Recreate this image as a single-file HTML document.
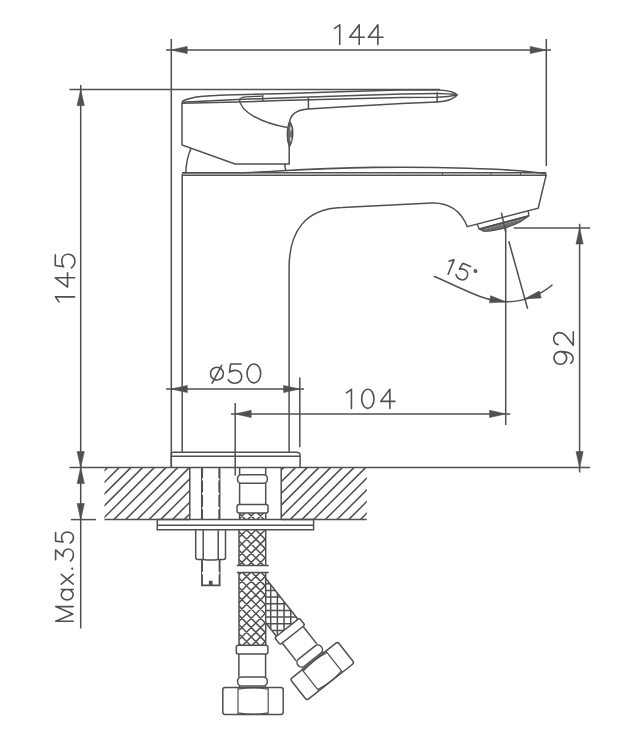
<!DOCTYPE html>
<html><head><meta charset="utf-8"><title>Faucet drawing</title>
<style>html,body{margin:0;padding:0;background:#fff;} svg{display:block;}</style>
</head><body>
<svg width="620" height="737" viewBox="0 0 620 737"><line x1="166" y1="50" x2="551" y2="50" stroke="#505050" stroke-width="1.5" />
<path d="M171.20,50.00 L187.20,46.40 L187.20,53.60 Z" fill="#505050" stroke="#505050" stroke-width="0.6"/>
<path d="M546.20,50.00 L530.20,53.60 L530.20,46.40 Z" fill="#505050" stroke="#505050" stroke-width="0.6"/>
<line x1="171.3" y1="39" x2="171.3" y2="467.5" stroke="#505050" stroke-width="1.5" />
<line x1="546.3" y1="39" x2="546.3" y2="166" stroke="#505050" stroke-width="1.5" />
<g transform="translate(333.3,44.5) rotate(0) scale(0.9900)" fill="none" stroke="#505050" stroke-width="1.616" stroke-linecap="round" stroke-linejoin="round"><path transform="translate(0.00,0)" d="M1.3,-16.2 L6.5,-19.9 V0"/><path transform="translate(16.26,0)" d="M9.9,0 V-20 L0.3,-7.3 H15.1"/><path transform="translate(35.15,0)" d="M9.9,0 V-20 L0.3,-7.3 H15.1"/></g>
<line x1="80.7" y1="85" x2="80.7" y2="628.6" stroke="#505050" stroke-width="1.5" />
<line x1="69.5" y1="89.6" x2="440" y2="89.6" stroke="#505050" stroke-width="1.5" />
<path d="M80.70,89.60 L84.30,105.60 L77.10,105.60 Z" fill="#505050" stroke="#505050" stroke-width="0.6"/>
<path d="M80.70,467.60 L77.10,451.60 L84.30,451.60 Z" fill="#505050" stroke="#505050" stroke-width="0.6"/>
<path d="M80.70,467.60 L84.30,483.60 L77.10,483.60 Z" fill="#505050" stroke="#505050" stroke-width="0.6"/>
<path d="M80.70,519.60 L77.10,503.60 L84.30,503.60 Z" fill="#505050" stroke="#505050" stroke-width="0.6"/>
<line x1="69.5" y1="467.6" x2="590" y2="467.6" stroke="#505050" stroke-width="1.5" />
<line x1="70.8" y1="519.6" x2="96" y2="519.6" stroke="#505050" stroke-width="1.5" />
<g transform="translate(74.6,303.1) rotate(-90) scale(0.9650)" fill="none" stroke="#505050" stroke-width="1.658" stroke-linecap="round" stroke-linejoin="round"><path transform="translate(0.00,0)" d="M1.3,-16.2 L6.5,-19.9 V0"/><path transform="translate(16.32,0)" d="M9.9,0 V-20 L0.3,-7.3 H15.1"/><path transform="translate(36.06,0)" d="M13.9,-20 H2.9 L1.7,-11.4 C3.3,-12.7 5.4,-13.3 7.6,-13.3 C11.8,-13.3 14.6,-10.4 14.6,-6.5 C14.6,-2.6 11.6,0.3 7.5,0.3 C4.6,0.3 2.0,-1.1 0.4,-3.4"/></g>
<g transform="translate(73.2,621.2) rotate(-90) scale(0.8800)" fill="none" stroke="#505050" stroke-width="1.818" stroke-linecap="round" stroke-linejoin="round"><path transform="translate(0.00,0)" d="M0,0 V-20 L8.3,-0.4 L16.6,-20 V0"/><path transform="translate(24.20,0)" d="M11.8,-13.6 V0 M11.8,-6.8 A5.9,6.8 0 1 1 0,-6.8 A5.9,6.8 0 1 1 11.8,-6.8"/><path transform="translate(42.05,0)" d="M0,-13.6 L11.2,0 M11.2,-13.6 L0,0"/><circle cx="59.66" cy="-1.1" r="1.25" fill="#505050" stroke="none"/><path transform="translate(68.18,0)" d="M1.6,-20 H12.8 L5.4,-11.6 C10.0,-12.2 13.9,-9.6 13.9,-5.8 C13.9,-2.2 11.0,0.3 7.2,0.3 C4.3,0.3 1.8,-1.0 0.2,-3.2"/><path transform="translate(88.52,0)" d="M12.1,-20 H2.5 L1.5,-11.4 C2.9,-12.7 4.7,-13.3 6.6,-13.3 C10.3,-13.3 12.7,-10.4 12.7,-6.5 C12.7,-2.6 10.1,0.3 6.5,0.3 C4.0,0.3 1.7,-1.1 0.35,-3.4"/></g>
<line x1="166" y1="389" x2="304" y2="389" stroke="#505050" stroke-width="1.5" />
<path d="M171.30,389.00 L187.30,385.40 L187.30,392.60 Z" fill="#505050" stroke="#505050" stroke-width="0.6"/>
<path d="M299.60,389.00 L283.60,392.60 L283.60,385.40 Z" fill="#505050" stroke="#505050" stroke-width="0.6"/>
<line x1="299.8" y1="377.5" x2="299.8" y2="447.3" stroke="#505050" stroke-width="1.5" />
<g transform="translate(210.5,382.9) rotate(0) scale(0.9450)" fill="none" stroke="#505050" stroke-width="1.693" stroke-linecap="round" stroke-linejoin="round"><path transform="translate(0.00,0)" d="M0,-9.8 A6.8,6.8 0 1 1 13.6,-9.8 A6.8,6.8 0 1 1 0,-9.8 M1.7,0.2 L11.8,-18.6"/><path transform="translate(18.41,0)" d="M13.9,-20 H2.9 L1.7,-11.4 C3.3,-12.7 5.4,-13.3 7.6,-13.3 C11.8,-13.3 14.6,-10.4 14.6,-6.5 C14.6,-2.6 11.6,0.3 7.5,0.3 C4.6,0.3 2.0,-1.1 0.4,-3.4"/><path transform="translate(38.41,0)" d="M7.5,-20 C3.4,-20 0.3,-15.5 0.3,-10 C0.3,-4.5 3.4,0 7.5,0 C11.6,0 14.7,-4.5 14.7,-10 C14.7,-15.5 11.6,-20 7.5,-20 Z"/></g>
<line x1="231" y1="413.9" x2="510.3" y2="413.9" stroke="#505050" stroke-width="1.5" />
<path d="M235.20,413.90 L251.20,410.30 L251.20,417.50 Z" fill="#505050" stroke="#505050" stroke-width="0.6"/>
<path d="M505.60,413.90 L489.60,417.50 L489.60,410.30 Z" fill="#505050" stroke="#505050" stroke-width="0.6"/>
<line x1="235.2" y1="403" x2="235.2" y2="475.5" stroke="#505050" stroke-width="1.5" />
<line x1="505.7" y1="228.5" x2="505.7" y2="425" stroke="#505050" stroke-width="1.5" />
<g transform="translate(345.2,408.4) rotate(0) scale(0.9600)" fill="none" stroke="#505050" stroke-width="1.667" stroke-linecap="round" stroke-linejoin="round"><path transform="translate(0.00,0)" d="M1.3,-16.2 L6.5,-19.9 V0"/><path transform="translate(16.88,0)" d="M6.7,-20 C3.1,-20 0.3,-15.5 0.3,-10 C0.3,-4.5 3.1,0 6.7,0 C10.3,0 13.1,-4.5 13.1,-10 C13.1,-15.5 10.3,-20 6.7,-20 Z"/><path transform="translate(36.67,0)" d="M9.9,0 V-20 L0.3,-7.3 H15.1"/></g>
<line x1="579.6" y1="223.8" x2="579.6" y2="472.5" stroke="#505050" stroke-width="1.5" />
<line x1="513.8" y1="228" x2="590" y2="228" stroke="#505050" stroke-width="1.5" />
<path d="M579.60,228.00 L583.20,244.00 L576.00,244.00 Z" fill="#505050" stroke="#505050" stroke-width="0.6"/>
<path d="M579.60,467.60 L576.00,451.60 L583.20,451.60 Z" fill="#505050" stroke="#505050" stroke-width="0.6"/>
<g transform="translate(573.3,364.4) rotate(-90) scale(0.9700)" fill="none" stroke="#505050" stroke-width="1.649" stroke-linecap="round" stroke-linejoin="round"><path transform="translate(0.00,0)" d="M13.2,-13.3 A6.5,6.5 0 1 1 13.2,-13.5 M13.2,-13.4 C13.3,-8 12.4,-4.2 10.3,-2 C7.8,0.6 3.6,0.4 1.3,-2.6"/><path transform="translate(19.38,0)" d="M1.0,-15.6 C1.4,-18.4 4.0,-20.2 7.0,-20.2 C10.6,-20.2 13.4,-17.6 13.4,-14.2 C13.4,-11.8 12.2,-9.9 10.6,-8.2 L0.4,0 H14.2"/></g>
<line x1="508.8" y1="241.3" x2="527.6" y2="308.8" stroke="#505050" stroke-width="1.5" />
<path d="M433.8,276.3 C463.8,288.9 482,300.7 505.7,301.8 A72.6,72.6 0 0 0 552.5,284.8" stroke="#505050" stroke-width="1.5" fill="none" />
<path d="M505.90,301.80 L489.53,302.83 L490.67,295.72 Z" fill="#505050" stroke="#505050" stroke-width="0.6"/>
<path d="M524.80,298.70 L539.32,291.08 L541.19,298.03 Z" fill="#505050" stroke="#505050" stroke-width="0.6"/>
<g transform="translate(447.0,273.8) rotate(22) scale(0.7800)" fill="none" stroke="#505050" stroke-width="2.051" stroke-linecap="round" stroke-linejoin="round"><path transform="translate(-4.87,0)" d="M1.3,-16.2 L6.5,-19.9 V0"/><path transform="translate(10.77,0)" d="M13.9,-20 H2.9 L1.7,-11.4 C3.3,-12.7 5.4,-13.3 7.6,-13.3 C11.8,-13.3 14.6,-10.4 14.6,-6.5 C14.6,-2.6 11.6,0.3 7.5,0.3 C4.6,0.3 2.0,-1.1 0.4,-3.4"/><circle cx="32.56" cy="-16.92" r="1.67" fill="#8a8a8a" stroke="#505050" stroke-width="1.667"/></g>
<path d="M182,101.5 C191,96.9 204,95.3 237,94.8 L287,93.4 L340,91.7 L400,90.1 L436,89.8 C447,90.3 455,92.5 457.3,95" stroke="#505050" stroke-width="1.5" fill="none" />
<path d="M182,102.2 L237,99.6 L280,97.9 L340,96.0 L402,94.1 L437,93.5 C446,93.5 452,94 457.3,95" stroke="#505050" stroke-width="1.5" fill="none" />
<path d="M182,103.2 L237,102.1 L280,100.6 L340,99.1 L402,97.6 L437,97.2 C446,96.8 452,96 457.3,95" stroke="#505050" stroke-width="1.5" fill="none" />
<path d="M289.2,124 C290,114 297,109.6 308.4,109 L340,107.1 L402,103.6 L437.2,102.1 C447,101.5 454,98.5 457.3,95" stroke="#505050" stroke-width="1.5" fill="none" />
<line x1="308.4" y1="97.6" x2="308.4" y2="109" stroke="#505050" stroke-width="1.5" />
<line x1="437.2" y1="92.3" x2="437.2" y2="102.2" stroke="#505050" stroke-width="1.5" />
<path d="M239.4,100.2 C239.8,97.8 241.8,97.0 246,96.8 L263,96.2" stroke="#505050" stroke-width="1.3" fill="none" />
<line x1="262.8" y1="94.6" x2="262.8" y2="101.4" stroke="#505050" stroke-width="1.3" />
<path d="M182,102 V145 L235,164 H289.2 V145" stroke="#505050" stroke-width="1.5" fill="none" />
<path d="M239.4,100 C241,111 258,122 287.2,127.6" stroke="#505050" stroke-width="1.5" fill="none" />
<path d="M191,148.5 Q186.5,158 185.6,173.6" stroke="#505050" stroke-width="1.5" fill="none" />
<line x1="284.6" y1="164" x2="285.6" y2="170" stroke="#505050" stroke-width="1.5" />
<line x1="442.5" y1="172.2" x2="442.5" y2="175.6" stroke="#505050" stroke-width="1.0" />
<line x1="491.0" y1="172.2" x2="491.0" y2="175.6" stroke="#505050" stroke-width="1.0" />
<line x1="520.5" y1="172.2" x2="520.5" y2="175.6" stroke="#505050" stroke-width="1.0" />
<path d="M289.7,121.8 C286.6,128 286.6,140 289.4,146.5 C293.2,140 294.4,128 289.7,121.8 Z" stroke="#505050" stroke-width="1.5" fill="#707070" />
<ellipse cx="290.8" cy="128.8" rx="0.75" ry="2.6" fill="#d8d8d8"/>
<ellipse cx="290.8" cy="139.0" rx="0.75" ry="2.6" fill="#d8d8d8"/>
<path d="M182,175.3 H546.3" stroke="#505050" stroke-width="1.5" fill="none" />
<path d="M182,172.8 H546.3" stroke="#505050" stroke-width="1.5" fill="none" />
<path d="M182,172.8 L240,172.8 C270,172.5 300,168.2 374,167.4 C430,166.8 510,168 546.3,173.8" stroke="#505050" stroke-width="1.6" fill="none" />
<line x1="182.2" y1="174" x2="182.2" y2="452.2" stroke="#505050" stroke-width="1.5" />
<path d="M289.1,452.2 V268 C289,232 305,208.5 342,207.6 L431.6,203 C449,202.5 461,211 467.3,226.7 L538.2,208.2 L546.3,174.4" stroke="#505050" stroke-width="1.5" fill="none" />
<g transform="translate(477.2,224.6) rotate(-15)"><path d="M0.9,4.8 L4.4,8.0 C12,10.5 30,11.5 43,8.3 L52.2,4.8 Z" fill="#6e6e6e" stroke="#505050" stroke-width="1.2"/><path d="M0,-0.2 L0.9,4.8 H52.2 L52.8,-0.2" stroke="#505050" stroke-width="1.4" fill="none"/><path d="M7,6.4 H46" stroke="#a8a8a8" stroke-width="0.7" stroke-dasharray="2.2 1.8" fill="none"/></g>
<line x1="501.4" y1="212.6" x2="505.7" y2="232" stroke="#505050" stroke-width="1.5" />
<path d="M171.3,467.6 V454 Q171.3,452.2 173.3,452.2 H296.6 Q300.1,452.2 300.1,455.7 V467.6" stroke="#505050" stroke-width="1.5" fill="none" />
<line x1="171.3" y1="456.2" x2="300.1" y2="456.2" stroke="#505050" stroke-width="1.5" />
<clipPath id="h1"><rect x="104.5" y="467.6" width="85.30000000000001" height="52.0"/></clipPath>
<path clip-path="url(#h1)" d="M55.40,519.6 L107.40,467.6 M67.10,519.6 L119.10,467.6 M78.80,519.6 L130.80,467.6 M90.50,519.6 L142.50,467.6 M102.20,519.6 L154.20,467.6 M113.90,519.6 L165.90,467.6 M125.60,519.6 L177.60,467.6 M137.30,519.6 L189.30,467.6 M149.00,519.6 L201.00,467.6 M160.70,519.6 L212.70,467.6 M172.40,519.6 L224.40,467.6 M184.10,519.6 L236.10,467.6 M195.80,519.6 L247.80,467.6" stroke="#505050" stroke-width="1.5" fill="none"/>
<clipPath id="h2"><rect x="281.2" y="467.6" width="85.60000000000002" height="52.0"/></clipPath>
<path clip-path="url(#h2)" d="M231.70,519.6 L283.70,467.6 M243.40,519.6 L295.40,467.6 M255.10,519.6 L307.10,467.6 M266.80,519.6 L318.80,467.6 M278.50,519.6 L330.50,467.6 M290.20,519.6 L342.20,467.6 M301.90,519.6 L353.90,467.6 M313.60,519.6 L365.60,467.6 M325.30,519.6 L377.30,467.6 M337.00,519.6 L389.00,467.6 M348.70,519.6 L400.70,467.6 M360.40,519.6 L412.40,467.6 M372.10,519.6 L424.10,467.6" stroke="#505050" stroke-width="1.5" fill="none"/>
<line x1="189.8" y1="467.6" x2="189.8" y2="519.6" stroke="#505050" stroke-width="1.5" />
<line x1="104.5" y1="519.6" x2="189.8" y2="519.6" stroke="#505050" stroke-width="1.5" />
<line x1="281.2" y1="467.6" x2="281.2" y2="519.6" stroke="#505050" stroke-width="1.5" />
<line x1="281.2" y1="519.6" x2="366.8" y2="519.6" stroke="#505050" stroke-width="1.5" />
<line x1="202.0" y1="467.6" x2="202.0" y2="519.6" stroke="#505050" stroke-width="2.1" />
<line x1="219.4" y1="467.6" x2="219.4" y2="519.6" stroke="#505050" stroke-width="2.1" />
<ellipse cx="202.9" cy="479.3" rx="0.85" ry="1.4" fill="#fff"/>
<ellipse cx="218.5" cy="479.3" rx="0.85" ry="1.4" fill="#fff"/>
<ellipse cx="202.9" cy="493.7" rx="0.85" ry="1.4" fill="#fff"/>
<ellipse cx="218.5" cy="493.7" rx="0.85" ry="1.4" fill="#fff"/>
<ellipse cx="202.9" cy="508.2" rx="0.85" ry="1.4" fill="#fff"/>
<ellipse cx="218.5" cy="508.2" rx="0.85" ry="1.4" fill="#fff"/>
<path d="M157.3,519.6 V529.8 H313.6 V519.6 Z" stroke="#505050" stroke-width="1.5" fill="none" />
<line x1="157.3" y1="525.2" x2="313.6" y2="525.2" stroke="#505050" stroke-width="1.5" />
<path d="M195.7,529.8 V557.5 Q195.7,559.4 197.7,559.4 H203.2 Q210.7,560.8 218.2,559.4 H223.5 Q225.5,559.4 225.5,557.5 V529.8" stroke="#505050" stroke-width="1.5" fill="none" />
<line x1="203.2" y1="529.8" x2="203.2" y2="559.4" stroke="#505050" stroke-width="1.5" />
<line x1="218.2" y1="529.8" x2="218.2" y2="559.4" stroke="#505050" stroke-width="1.5" />
<path d="M202.0,559.4 V585.4 H209.8 V581.8 H211.6 V585.4 H219.6 V559.4" stroke="#505050" stroke-width="1.9" fill="none" />
<ellipse cx="202.9" cy="573" rx="0.9" ry="1.6" fill="#fff"/>
<ellipse cx="218.7" cy="573" rx="0.9" ry="1.6" fill="#fff"/>
<path d="M239.6,467.6 V474.8" stroke="#505050" stroke-width="1.5" fill="none" />
<path d="M265.7,467.6 V474.8" stroke="#505050" stroke-width="1.5" fill="none" />
<rect x="237.6" y="474.8" width="29.7" height="8.4" rx="3.5" fill="none" stroke="#505050" stroke-width="1.5"/>
<line x1="239.6" y1="483.2" x2="239.6" y2="504.5" stroke="#505050" stroke-width="1.5" />
<line x1="265.7" y1="483.2" x2="265.7" y2="504.5" stroke="#505050" stroke-width="1.5" />
<rect x="237.1" y="504.5" width="30.9" height="8.4" rx="2" fill="none" stroke="#505050" stroke-width="1.5"/>
<clipPath id="bn"><rect x="239.6" y="512.9" width="26.099999999999994" height="6.7000000000000455"/></clipPath>
<path clip-path="url(#bn)" d="M219.70,519.6 L226.40,512.9 M229.00,519.6 L235.70,512.9 M238.30,519.6 L245.00,512.9 M247.60,519.6 L254.30,512.9 M256.90,519.6 L263.60,512.9 M266.20,519.6 L272.90,512.9 M275.50,519.6 L282.20,512.9 M220.20,512.9 L226.90,519.6 M229.50,512.9 L236.20,519.6 M238.80,512.9 L245.50,519.6 M248.10,512.9 L254.80,519.6 M257.40,512.9 L264.10,519.6 M266.70,512.9 L273.40,519.6 M276.00,512.9 L282.70,519.6" stroke="#505050" stroke-width="1.5" fill="none"/>
<line x1="239.6" y1="512.9" x2="239.6" y2="519.6" stroke="#505050" stroke-width="1.5" />
<line x1="265.7" y1="512.9" x2="265.7" y2="519.6" stroke="#505050" stroke-width="1.5" />
<clipPath id="bv1"><rect x="239.0" y="529.8" width="26.69999999999999" height="35.80000000000007"/></clipPath>
<path clip-path="url(#bv1)" d="M192.30,565.6 L228.10,529.8 M201.60,565.6 L237.40,529.8 M210.90,565.6 L246.70,529.8 M220.20,565.6 L256.00,529.8 M229.50,565.6 L265.30,529.8 M238.80,565.6 L274.60,529.8 M248.10,565.6 L283.90,529.8 M257.40,565.6 L293.20,529.8 M266.70,565.6 L302.50,529.8 M276.00,565.6 L311.80,529.8 M190.60,529.8 L226.40,565.6 M199.90,529.8 L235.70,565.6 M209.20,529.8 L245.00,565.6 M218.50,529.8 L254.30,565.6 M227.80,529.8 L263.60,565.6 M237.10,529.8 L272.90,565.6 M246.40,529.8 L282.20,565.6 M255.70,529.8 L291.50,565.6 M265.00,529.8 L300.80,565.6 M274.30,529.8 L310.10,565.6 M283.60,529.8 L319.40,565.6" stroke="#505050" stroke-width="1.5" fill="none"/>
<line x1="239.0" y1="529.8" x2="239.0" y2="565.6" stroke="#505050" stroke-width="1.5" />
<line x1="265.7" y1="529.8" x2="265.7" y2="565.6" stroke="#505050" stroke-width="1.5" />
<line x1="236.8" y1="565.6" x2="268.7" y2="565.6" stroke="#505050" stroke-width="1.5" />
<line x1="236.8" y1="572.6" x2="268.7" y2="572.6" stroke="#505050" stroke-width="1.5" />
<clipPath id="bv2"><rect x="239.0" y="572.6" width="26.69999999999999" height="72.69999999999993"/></clipPath>
<path clip-path="url(#bv2)" d="M149.80,645.3 L222.50,572.6 M159.10,645.3 L231.80,572.6 M168.40,645.3 L241.10,572.6 M177.70,645.3 L250.40,572.6 M187.00,645.3 L259.70,572.6 M196.30,645.3 L269.00,572.6 M205.60,645.3 L278.30,572.6 M214.90,645.3 L287.60,572.6 M224.20,645.3 L296.90,572.6 M233.50,645.3 L306.20,572.6 M242.80,645.3 L315.50,572.6 M252.10,645.3 L324.80,572.6 M261.40,645.3 L334.10,572.6 M270.70,645.3 L343.40,572.6 M280.00,645.3 L352.70,572.6 M149.70,572.6 L222.40,645.3 M159.00,572.6 L231.70,645.3 M168.30,572.6 L241.00,645.3 M177.60,572.6 L250.30,645.3 M186.90,572.6 L259.60,645.3 M196.20,572.6 L268.90,645.3 M205.50,572.6 L278.20,645.3 M214.80,572.6 L287.50,645.3 M224.10,572.6 L296.80,645.3 M233.40,572.6 L306.10,645.3 M242.70,572.6 L315.40,645.3 M252.00,572.6 L324.70,645.3 M261.30,572.6 L334.00,645.3 M270.60,572.6 L343.30,645.3 M279.90,572.6 L352.60,645.3" stroke="#505050" stroke-width="1.5" fill="none"/>
<line x1="239.0" y1="572.6" x2="239.0" y2="645.3" stroke="#505050" stroke-width="1.5" />
<line x1="265.7" y1="572.6" x2="265.7" y2="645.3" stroke="#505050" stroke-width="1.5" />
<g><rect x="236.3" y="645.3" width="31.6" height="8.8" rx="2" fill="#fff" stroke="#505050" stroke-width="1.5"/><path d="M238.9,654.1 V676.9 M265.6,654.1 V676.9" stroke="#505050" stroke-width="1.5"/><rect x="237.6" y="676.9" width="29.7" height="9.1" rx="4.2" fill="#fff" stroke="#505050" stroke-width="1.5"/><path d="M239.5,686 V688 M265.2,686 V688" stroke="#505050" stroke-width="1.5"/><path d="M225,687.6 H281 Q283.2,687.6 283.2,690 V712 Q283.2,714.4 281,714.4 H225 Q222.8,714.4 222.8,712 V690 Q222.8,687.6 225,687.6 Z" fill="#fff" stroke="#505050" stroke-width="1.5"/><path d="M238,687.6 V714.4 M268.2,687.6 V714.4 M238,689.2 Q253,686.5 268.2,689.2 M238,712.8 Q253,715.6 268.2,712.8" fill="none" stroke="#505050" stroke-width="1.2"/></g>
<clipPath id="ang"><path d="M265.8,578.5 L297.95,619.3 L276.4,636.3 L265.8,622.7 Z"/></clipPath>
<path clip-path="url(#ang)" d="M257.34,570 V645 M264.02,570 V645 M270.70,570 V645 M277.38,570 V645 M284.06,570 V645 M290.74,570 V645 M297.42,570 V645 M304.10,570 V645 M260,570.36 H305 M260,577.04 H305 M260,583.72 H305 M260,590.40 H305 M260,597.08 H305 M260,603.76 H305 M260,610.44 H305 M260,617.12 H305 M260,623.80 H305 M260,630.48 H305 M260,637.16 H305 M260,643.84 H305" stroke="#505050" stroke-width="1.5" fill="none"/>
<path d="M265.8,578.5 L297.95,619.3" stroke="#505050" stroke-width="1.5" fill="none" />
<path d="M265.8,622.7 L276.4,636.3" stroke="#505050" stroke-width="1.5" fill="none" />
<g transform="translate(287.2,627.8) rotate(-38.3) translate(-252.3,-645.3)"><rect x="236.3" y="645.3" width="31.6" height="8.8" rx="2" fill="#fff" stroke="#505050" stroke-width="1.5"/><path d="M238.9,654.1 V676.9 M265.6,654.1 V676.9" stroke="#505050" stroke-width="1.5"/><rect x="237.6" y="676.9" width="29.7" height="9.1" rx="4.2" fill="#fff" stroke="#505050" stroke-width="1.5"/><path d="M239.5,686 V688 M265.2,686 V688" stroke="#505050" stroke-width="1.5"/><path d="M225,687.6 H281 Q283.2,687.6 283.2,690 V712 Q283.2,714.4 281,714.4 H225 Q222.8,714.4 222.8,712 V690 Q222.8,687.6 225,687.6 Z" fill="#fff" stroke="#505050" stroke-width="1.5"/><path d="M238,687.6 V714.4 M268.2,687.6 V714.4 M238,689.2 Q253,686.5 268.2,689.2 M238,712.8 Q253,715.6 268.2,712.8" fill="none" stroke="#505050" stroke-width="1.2"/></g></svg>
</body></html>
